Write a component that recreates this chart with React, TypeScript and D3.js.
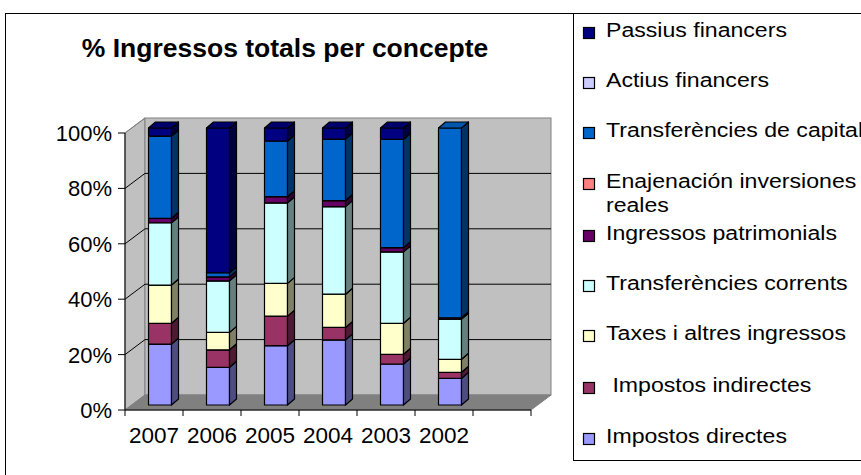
import React from "react";
import * as d3 from "d3";

// years, left to right
const years = ["2007", "2006", "2005", "2004", "2003", "2002"];

// values per year (% of total income), stacked bottom to top
const impostosDirectes = [22.0, 13.6, 21.4, 23.5, 14.8, 9.6];
const impostosIndirectes = [7.5, 6.3, 10.7, 4.5, 3.5, 2.2];
const taxes = [13.8, 6.3, 11.8, 12.0, 11.2, 4.7];
const transfCorrents = [22.5, 18.6, 29.1, 31.6, 25.8, 14.5];
const patrimonials = [1.6, 1.4, 2.2, 2.2, 1.5, 0.5];
const enajenacion = [0, 0, 0, 0, 0, 0];
const transfCapital = [29.7, 1.5, 20.1, 22.2, 39.1, 68.5];
const actius = [0, 0, 0, 0, 0, 0];
const passius = [2.9, 52.2, 4.7, 4.0, 4.1, 0];

const seriesNames = [
  "Impostos directes",
  " Impostos indirectes",
  "Taxes i altres ingressos",
  "Transferències corrents",
  "Ingressos patrimonials",
  "Enajenación inversiones reales",
  "Transferències de capital",
  "Actius financers",
  "Passius financers",
];
const seriesValues = [
  impostosDirectes,
  impostosIndirectes,
  taxes,
  transfCorrents,
  patrimonials,
  enajenacion,
  transfCapital,
  actius,
  passius,
];
const seriesColors = [
  "#9999FF",
  "#993366",
  "#FFFFCC",
  "#CCFFFF",
  "#660066",
  "#FF8080",
  "#0066CC",
  "#CCCCFF",
  "#000080",
];

const yTicks = [0, 0.2, 0.4, 0.6, 0.8, 1];

const FONT = "'Liberation Sans', Arial, sans-serif";

// 3d geometry
const DX = 20; // wall depth
const DY = 15;
const BX = 6; // bar front plane offset
const BY = 5;
const BDX = 7; // bar depth
const BDY = 6;
const BAR_W = 23;

function shade(c: string, k: number) {
  const col = d3.rgb(c);
  return d3.rgb(col.r * k, col.g * k, col.b * k).formatHex();
}

export default function App() {
  const rows = years.map((yr, i) => {
    const r: any = { year: yr };
    seriesNames.forEach((n, j) => (r[n] = seriesValues[j][i]));
    return r;
  });
  const stacked = d3
    .stack()
    .keys(seriesNames)
    .offset(d3.stackOffsetExpand)(rows);

  const x = d3
    .scaleBand()
    .domain([...years, "_"])
    .range([125, 531])
    .padding(0);
  const y = d3.scaleLinear().domain([0, 1]).range([410, 133]);
  const fmt = d3.format(".0%");

  const x0 = 125;
  const x1 = 531;
  const yTop = y(1);
  const yBot = y(0);

  const bars: any[] = [];
  years.forEach((yr, i) => {
    const bx = (x(yr) as number) + x.bandwidth() / 2 - BAR_W / 2 + BX;
    stacked.forEach((s, j) => {
      const v0 = s[i][0];
      const v1 = s[i][1];
      if (v1 - v0 <= 0.0001) return;
      const yb = y(v0) - BY;
      const yt = y(v1) - BY;
      const c = seriesColors[j];
      bars.push(
        <g key={yr + j} stroke="#000" strokeWidth={1.2} strokeLinejoin="round">
          <rect x={bx} y={yt} width={BAR_W} height={yb - yt} fill={c} />
          <polygon
            points={`${bx + BAR_W},${yt} ${bx + BAR_W + BDX},${yt - BDY} ${bx + BAR_W + BDX},${yb - BDY} ${bx + BAR_W},${yb}`}
            fill={shade(c, 0.5)}
          />
          <polygon
            points={`${bx},${yt} ${bx + BDX},${yt - BDY} ${bx + BAR_W + BDX},${yt - BDY} ${bx + BAR_W},${yt}`}
            fill={shade(c, 0.85)}
          />
        </g>
      );
    });
  });

  const legendItems = seriesNames.map((n, j) => ({ name: n, color: seriesColors[j] })).reverse();
  const legendBase = [37, 87, 137, 188, 240, 290, 340, 392, 443];

  return (
    <svg
      width={861}
      height={475}
      style={{ position: "absolute", left: 0, top: 0, background: "#fff" }}
      fontFamily={FONT}
    >
      <rect x={5.5} y={13.5} width={900} height={500} fill="#fff" stroke="#000" />

      <text x={285} y={57} textAnchor="middle" fontWeight="bold" fontSize={26.5}>
        % Ingressos totals per concepte
      </text>

      {/* walls */}
      <polygon
        points={`${x0},${yTop} ${x0 + DX},${yTop - DY} ${x0 + DX},${yBot - DY} ${x0},${yBot}`}
        fill="#C0C0C0"
        stroke="#808080"
      />
      <rect
        x={x0 + DX}
        y={yTop - DY}
        width={x1 - x0}
        height={yBot - yTop}
        fill="#C0C0C0"
        stroke="#808080"
      />
      <polygon
        points={`${x0},${yBot} ${x1},${yBot} ${x1 + DX},${yBot - DY} ${x0 + DX},${yBot - DY}`}
        fill="#808080"
        stroke="#808080"
      />
      {yTicks.slice(1, -1).map((t) => (
        <g key={"g" + t} stroke="#000" strokeWidth={1}>
          <line x1={x0} y1={y(t)} x2={x0 + DX} y2={y(t) - DY} />
          <line x1={x0 + DX} y1={y(t) - DY} x2={x1 + DX} y2={y(t) - DY} />
        </g>
      ))}
      <line x1={x0} y1={yTop} x2={x0 + DX} y2={yTop - DY} stroke="#808080" />

      {bars}

      {/* axes */}
      <line x1={x0} y1={yTop} x2={x0} y2={yBot} stroke="#000" />
      <line x1={x0} y1={yBot} x2={x1} y2={yBot} stroke="#000" />
      {yTicks.map((t) => (
        <g key={"y" + t}>
          <line x1={x0 - 7} x2={x0} y1={y(t)} y2={y(t)} stroke="#000" />
          <text x={112} y={y(t) + 8} textAnchor="end" fontSize={22}>
            {fmt(t)}
          </text>
        </g>
      ))}
      {x.domain().map((d) => (
        <line
          key={"xt" + d}
          x1={x(d) as number}
          x2={x(d) as number}
          y1={yBot}
          y2={yBot + 6}
          stroke="#000"
        />
      ))}
      <line x1={x1} x2={x1} y1={yBot} y2={yBot + 6} stroke="#000" />
      {years.map((yr) => (
        <text
          key={"xl" + yr}
          x={(x(yr) as number) + x.bandwidth() / 2}
          y={443}
          textAnchor="middle"
          fontSize={22.5}
        >
          {yr}
        </text>
      ))}

      {/* legend */}
      <rect x={573.5} y={13.5} width={400} height={447} fill="#fff" stroke="#000" />
      {legendItems.map((it, k) => {
        const b = legendBase[k];
        const wrap = it.name.startsWith("Enajenación");
        return (
          <g key={"l" + k}>
            <rect x={583.5} y={b - 9.5} width={11} height={11} fill={it.color} stroke="#000" strokeWidth={1.2} />
            <text
              transform={`translate(606,${b}) scale(1.1,1)`}
              fontSize={21}
              style={{ whiteSpace: "pre" }}
            >
              {wrap ? "Enajenación inversiones" : it.name}
            </text>
            {wrap && (
              <text transform={`translate(606,${b + 24}) scale(1.1,1)`} fontSize={21}>
                reales
              </text>
            )}
          </g>
        );
      })}
    </svg>
  );
}
